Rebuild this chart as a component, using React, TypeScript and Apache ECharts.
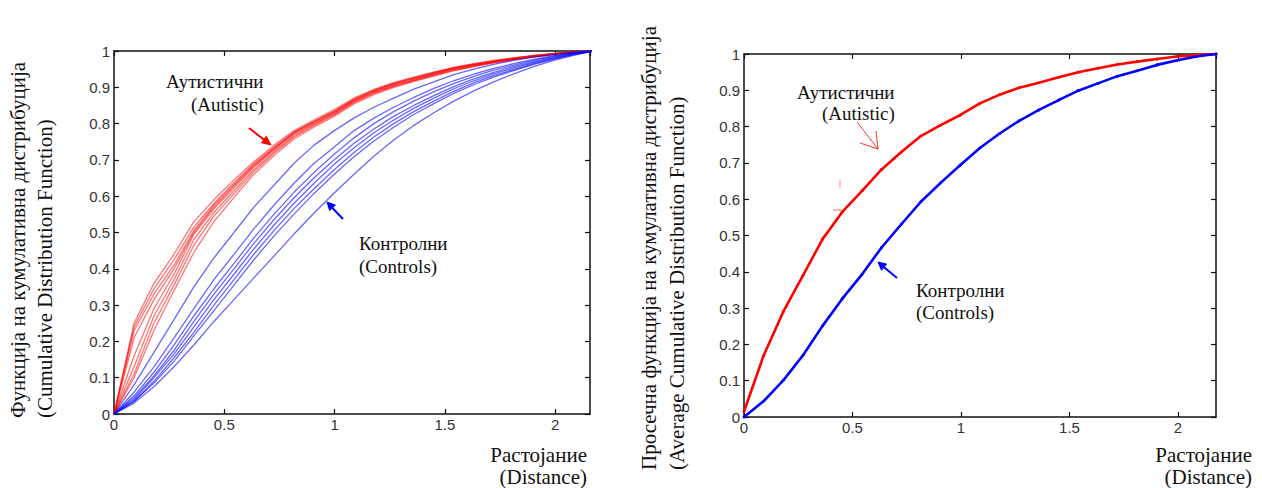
import React, { useEffect, useRef } from "react";
import * as echarts from "echarts";

// Distance grid (x) shared by all curves
const DISTANCE = [0, 0.091, 0.181, 0.272, 0.362, 0.453, 0.544, 0.634, 0.725, 0.815, 0.906, 0.997, 1.087, 1.178, 1.268, 1.359, 1.45, 1.54, 1.631, 1.721, 1.812, 1.903, 1.993, 2.084, 2.175];

// Left panel: individual CDFs, autistic subjects
const AUT_1 = [0, 0.25, 0.36, 0.44, 0.53, 0.59, 0.645, 0.695, 0.74, 0.78, 0.81, 0.838, 0.87, 0.894, 0.913, 0.928, 0.942, 0.955, 0.965, 0.974, 0.981, 0.988, 0.993, 0.997, 1];
const AUT_2 = [0, 0.24, 0.345, 0.425, 0.515, 0.58, 0.637, 0.69, 0.735, 0.776, 0.806, 0.834, 0.867, 0.892, 0.911, 0.926, 0.941, 0.954, 0.964, 0.973, 0.98, 0.987, 0.993, 0.997, 1];
const AUT_3 = [0, 0.23, 0.33, 0.41, 0.505, 0.575, 0.632, 0.686, 0.732, 0.775, 0.805, 0.833, 0.866, 0.891, 0.91, 0.925, 0.94, 0.953, 0.963, 0.972, 0.98, 0.987, 0.993, 0.997, 1];
const AUT_4 = [0, 0.21, 0.315, 0.4, 0.5, 0.57, 0.628, 0.683, 0.73, 0.773, 0.803, 0.831, 0.864, 0.889, 0.908, 0.923, 0.938, 0.952, 0.962, 0.971, 0.979, 0.986, 0.992, 0.997, 1];
const AUT_5 = [0, 0.16, 0.29, 0.385, 0.495, 0.565, 0.623, 0.68, 0.727, 0.77, 0.8, 0.828, 0.862, 0.887, 0.906, 0.921, 0.936, 0.95, 0.961, 0.97, 0.978, 0.985, 0.992, 0.997, 1];
const AUT_6 = [0, 0.13, 0.27, 0.37, 0.48, 0.555, 0.615, 0.673, 0.722, 0.766, 0.797, 0.826, 0.86, 0.885, 0.904, 0.92, 0.935, 0.949, 0.96, 0.969, 0.977, 0.985, 0.992, 0.997, 1];
const AUT_7 = [0, 0.11, 0.25, 0.355, 0.465, 0.545, 0.607, 0.667, 0.718, 0.762, 0.794, 0.823, 0.857, 0.883, 0.902, 0.918, 0.933, 0.947, 0.958, 0.968, 0.976, 0.984, 0.991, 0.996, 1];
const AUT_8 = [0, 0.1, 0.23, 0.34, 0.445, 0.53, 0.597, 0.66, 0.712, 0.757, 0.79, 0.82, 0.854, 0.88, 0.9, 0.916, 0.931, 0.945, 0.957, 0.967, 0.976, 0.984, 0.991, 0.996, 1];

// Left panel: individual CDFs, control subjects
const CTL_1 = [0, 0.08, 0.17, 0.26, 0.35, 0.43, 0.5, 0.57, 0.63, 0.69, 0.74, 0.78, 0.815, 0.845, 0.87, 0.895, 0.915, 0.935, 0.95, 0.963, 0.974, 0.983, 0.99, 0.996, 1];
const CTL_2 = [0, 0.06, 0.13, 0.21, 0.29, 0.37, 0.44, 0.51, 0.575, 0.635, 0.69, 0.735, 0.78, 0.815, 0.845, 0.872, 0.897, 0.918, 0.936, 0.952, 0.965, 0.977, 0.987, 0.995, 1];
const CTL_3 = [0, 0.05, 0.115, 0.19, 0.27, 0.345, 0.415, 0.485, 0.55, 0.61, 0.665, 0.715, 0.76, 0.8, 0.833, 0.862, 0.888, 0.91, 0.93, 0.947, 0.961, 0.974, 0.985, 0.994, 1];
const CTL_4 = [0, 0.045, 0.105, 0.175, 0.255, 0.33, 0.4, 0.47, 0.535, 0.595, 0.65, 0.7, 0.745, 0.785, 0.82, 0.85, 0.877, 0.902, 0.923, 0.941, 0.957, 0.971, 0.983, 0.993, 1];
const CTL_5 = [0, 0.04, 0.1, 0.165, 0.24, 0.315, 0.385, 0.455, 0.52, 0.58, 0.635, 0.687, 0.733, 0.775, 0.81, 0.842, 0.87, 0.896, 0.918, 0.937, 0.953, 0.968, 0.981, 0.992, 1];
const CTL_6 = [0, 0.035, 0.09, 0.155, 0.225, 0.3, 0.37, 0.44, 0.505, 0.565, 0.62, 0.672, 0.72, 0.763, 0.8, 0.833, 0.862, 0.889, 0.912, 0.932, 0.949, 0.965, 0.979, 0.991, 1];
const CTL_7 = [0, 0.035, 0.085, 0.145, 0.215, 0.285, 0.355, 0.425, 0.49, 0.55, 0.607, 0.66, 0.708, 0.752, 0.79, 0.825, 0.855, 0.883, 0.907, 0.928, 0.946, 0.963, 0.977, 0.99, 1];
const CTL_8 = [0, 0.03, 0.075, 0.13, 0.19, 0.255, 0.315, 0.375, 0.435, 0.495, 0.553, 0.608, 0.66, 0.71, 0.755, 0.795, 0.83, 0.862, 0.89, 0.915, 0.937, 0.957, 0.974, 0.988, 1];

// Right panel: average CDFs
const AUT_MEAN = [0.015, 0.17, 0.29, 0.39, 0.49, 0.565, 0.623, 0.682, 0.73, 0.774, 0.804, 0.832, 0.864, 0.888, 0.907, 0.921, 0.936, 0.95, 0.961, 0.971, 0.979, 0.986, 0.993, 0.997, 1];
const CTL_MEAN = [0, 0.044, 0.101, 0.17, 0.251, 0.326, 0.393, 0.467, 0.531, 0.593, 0.645, 0.694, 0.741, 0.781, 0.816, 0.846, 0.873, 0.899, 0.919, 0.939, 0.954, 0.97, 0.982, 0.993, 1];

const AUT_CURVES = [AUT_1, AUT_2, AUT_3, AUT_4, AUT_5, AUT_6, AUT_7, AUT_8];
const CTL_CURVES = [CTL_1, CTL_2, CTL_3, CTL_4, CTL_5, CTL_6, CTL_7, CTL_8];

const LEFT_X_MAX = 2.158;
const RIGHT_X_MAX = 2.175;

const SERIF = '"Liberation Serif", "Times New Roman", serif';
const SANS = '"Liberation Sans", Arial, sans-serif';

const pairs = (ys: number[]) => ys.map((y, i) => [DISTANCE[i], y]);

function xAxis(gridIndex: number, max: number, position: "top" | "bottom") {
  return {
    type: "value",
    gridIndex,
    position,
    min: 0,
    max,
    interval: 0.5,
    axisLine: { show: true, onZero: false, lineStyle: { color: "#111", width: 1.5 } },
    axisTick: { show: true, inside: true, length: 5, lineStyle: { color: "#111", width: 1.2 } },
    axisLabel: {
      show: position === "bottom",
      showMaxLabel: false,
      margin: 3,
      color: "#333",
      fontFamily: SANS,
      fontSize: 15,
    },
    splitLine: { show: false },
  };
}

function yAxis(gridIndex: number, position: "left" | "right") {
  return {
    type: "value",
    gridIndex,
    position,
    min: 0,
    max: 1,
    interval: 0.1,
    axisLine: { show: true, onZero: false, lineStyle: { color: "#111", width: 1.5 } },
    axisTick: { show: true, inside: true, length: 5, lineStyle: { color: "#111", width: 1.2 } },
    axisLabel: {
      show: position === "left",
      margin: 4,
      color: "#333",
      fontFamily: SANS,
      fontSize: 15,
    },
    splitLine: { show: false },
  };
}

function txt(text: string, x: number, y: number, size: number, align: string, rotation = 0) {
  return {
    type: "text",
    x,
    y,
    rotation,
    z: 100,
    style: {
      text,
      fill: "#111",
      font: `${size}px ${SERIF}`,
      textAlign: align,
      textVerticalAlign: "middle",
    },
  };
}

function seg(x1: number, y1: number, x2: number, y2: number, color: string, width: number) {
  return {
    type: "line",
    z: 100,
    shape: { x1, y1, x2, y2 },
    style: { stroke: color, lineWidth: width },
  };
}

function head(points: number[][], color: string) {
  return {
    type: "polygon",
    z: 100,
    shape: { points },
    style: { fill: color, stroke: color, lineWidth: 1 },
  };
}

export default function App() {
  const ref = useRef<HTMLDivElement>(null);

  useEffect(() => {
    document.body.style.margin = "0";
    const chart = echarts.init(ref.current!, null, { renderer: "svg" });

    const series: any[] = [];
    AUT_CURVES.forEach((c, i) =>
      series.push({
        name: "Autistic " + (i + 1),
        type: "line",
        xAxisIndex: 0,
        yAxisIndex: 0,
        data: pairs(c),
        symbol: "none",
        lineStyle: { color: "rgba(255,0,0,0.55)", width: 1.3 },
      })
    );
    CTL_CURVES.forEach((c, i) =>
      series.push({
        name: "Control " + (i + 1),
        type: "line",
        xAxisIndex: 0,
        yAxisIndex: 0,
        data: pairs(c),
        symbol: "none",
        lineStyle: { color: "rgba(0,0,255,0.6)", width: 1.3 },
      })
    );
    series.push({
      name: "Autistic mean",
      type: "line",
      xAxisIndex: 2,
      yAxisIndex: 2,
      data: pairs(AUT_MEAN),
      symbol: "circle",
      symbolSize: 3,
      itemStyle: { color: "#ff0000" },
      lineStyle: { color: "#ff0000", width: 2.6 },
    });
    series.push({
      name: "Control mean",
      type: "line",
      xAxisIndex: 2,
      yAxisIndex: 2,
      data: pairs(CTL_MEAN),
      symbol: "circle",
      symbolSize: 3,
      itemStyle: { color: "#0000ff" },
      lineStyle: { color: "#0000ff", width: 2.6 },
    });

    const option: any = {
      animation: false,
      backgroundColor: "#ffffff",
      grid: [
        { left: 114, top: 51, width: 476, height: 363 },
        { left: 744, top: 54, width: 472, height: 363 },
      ],
      xAxis: [
        xAxis(0, LEFT_X_MAX, "bottom"),
        xAxis(0, LEFT_X_MAX, "top"),
        xAxis(1, RIGHT_X_MAX, "bottom"),
        xAxis(1, RIGHT_X_MAX, "top"),
      ],
      yAxis: [yAxis(0, "left"), yAxis(0, "right"), yAxis(1, "left"), yAxis(1, "right")],
      series,
      graphic: [
        // Left panel axis titles
        txt("Функција на кумулативна дистрибуција", 18, 418, 21, "left", Math.PI / 2),
        txt("(Cumulative Distribution Function)", 45, 418, 21, "left", Math.PI / 2),
        txt("Растојание", 587, 455, 21, "right"),
        txt("(Distance)", 587, 477, 21, "right"),
        // Left panel annotations
        txt("Аутистични", 166, 81, 19, "left"),
        txt("(Autistic)", 191, 104, 19, "left"),
        txt("Контролни", 359, 243, 19, "left"),
        txt("(Controls)", 359, 266, 19, "left"),
        seg(249, 128, 265, 140.5, "#ff0000", 2),
        head([[271, 145], [261.5, 142.7], [266.3, 136.3]], "#ff0000"),
        seg(343, 219, 331, 206.5, "#0000ff", 2),
        head([[327, 202], [335.4, 205.1], [329.6, 210.5]], "#0000ff"),
        // Right panel axis titles
        txt("Просечна функција на кумулативна дистрибуција", 649, 470, 21, "left", Math.PI / 2),
        txt("(Average Cumulative Distribution Function)", 677, 470, 21, "left", Math.PI / 2),
        txt("Растојание", 1252, 455, 21, "right"),
        txt("(Distance)", 1252, 477, 21, "right"),
        // Right panel annotations
        txt("Аутистични", 797, 92, 19, "left"),
        txt("(Autistic)", 822, 113, 19, "left"),
        txt("Контролни", 916, 290, 19, "left"),
        txt("(Controls)", 916, 312, 19, "left"),
        seg(857, 122, 878, 149, "#ff0000", 0.8),
        seg(878, 149, 860, 143, "#ff0000", 0.8),
        seg(878, 149, 876, 131, "#ff0000", 0.8),
        seg(840, 180, 840, 188, "rgba(255,0,0,0.6)", 0.8),
        seg(833, 210, 841, 210, "rgba(255,0,0,0.8)", 0.8),
        seg(897, 278, 882, 265.5, "#0000ff", 2),
        head([[878, 262], [886.7, 264.1], [881.5, 270.3]], "#0000ff"),
      ],
    };

    chart.setOption(option);
    return () => chart.dispose();
  }, []);

  return <div ref={ref} style={{ width: 1262, height: 488 }} />;
}
